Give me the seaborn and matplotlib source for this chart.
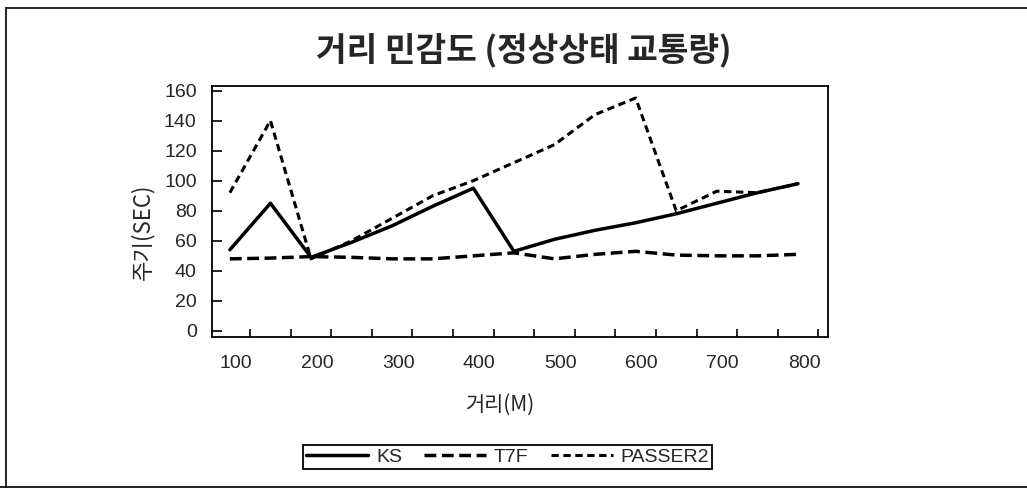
import pandas as pd
import numpy as np
import matplotlib
matplotlib.use("Agg")
import matplotlib.pyplot as plt
import matplotlib.font_manager as fm
from matplotlib.lines import Line2D
from matplotlib.transforms import ScaledTranslation
import seaborn as sns

# Datos (ciclo en segundos segun distancia)
distancia = [100, 150, 200, 250, 300, 350, 400, 450, 500, 550, 600, 650, 700, 750, 800]
ks = [54, 85, 49, 59, 70, 83, 95, 53, 61, 67, 72, 78, 85, 92, 98]
t7f = [48, 48.5, 49.5, 49, 48, 48, 50, 52, 48, 51, 53, 50.5, 50, 50, 51]
passer2 = [92, 140, 48, 60, 75, 90, 100, 112, 124, 144, 155, 80, 93, 92, 98]

series = ["KS", "T7F", "PASSER2"]
x_ticks = [100, 200, 300, 400, 500, 600, 700, 800]
y_ticks = [0, 20, 40, 60, 80, 100, 120, 140, 160]

titulo = "거리 민감도 (정상상태 교통량)"
xlabel = "거리(M)"
ylabel = "주기(SEC)"

# Estilo general
sns.set_theme(style="white")
nombres = {f.name for f in fm.fontManager.ttflist}
narrow = "Liberation Sans Narrow" if "Liberation Sans Narrow" in nombres else "Liberation Sans"
plt.rcParams["font.family"] = [narrow, "Noto Sans CJK KR", "DejaVu Sans"]
korean = ["Noto Sans CJK KR", "DejaVu Sans"]

df = pd.DataFrame({
    "거리": distancia * 3,
    "주기": ks + t7f + passer2,
    "구분": [s for s in series for _ in distancia],
})

fig = plt.figure(figsize=(10.27, 4.91), dpi=100)
ax = fig.add_axes([212 / 1027, 1 - 337 / 491, 616 / 1027, 251 / 491])

estilos = {
    "KS": dict(linewidth=2.5, linestyle="-"),
    "T7F": dict(linewidth=2.5, linestyle=(0, (3.4, 1.6))),
    "PASSER2": dict(linewidth=2.2, linestyle=(0, (2.4, 1.5))),
}
for s in series:
    sns.lineplot(data=df[df["구분"] == s], x="거리", y="주기", color="black",
                 label=s, ax=ax, **estilos[s])

# Ejes
ax.set_xlim(78, 837)
ax.set_ylim(-4, 163)
ax.set_xticks(x_ticks)
ax.set_xticks(np.arange(125, 826, 50), minor=True)
ax.set_yticks(y_ticks)
ax.tick_params(axis="x", which="major", length=0, pad=13, labelsize=14)
ax.tick_params(axis="x", which="minor", direction="in", length=6, width=1.2, color="black",
               bottom=True)
ax.tick_params(axis="y", which="major", direction="in", length=7, width=1.2, color="black",
               left=True, pad=11, labelsize=14)
for lab in ax.get_xticklabels():
    lab.set_transform(lab.get_transform() + ScaledTranslation(6 / 100, 0, fig.dpi_scale_trans))

for sp in ax.spines.values():
    sp.set_color("black")
    sp.set_linewidth(1.3)

ax.set_xlabel(xlabel, fontsize=15, family=korean)
ax.xaxis.set_label_coords(0.469, -0.225)
ax.set_ylabel(ylabel, fontsize=16, family=korean)
ax.yaxis.set_label_coords(-0.093, 0.42)

fig.text(524 / 1027, 1 - 50 / 491, titulo, ha="center", va="center",
         fontsize=24, weight="bold", family=korean)

# Leyenda
leg = ax.legend(loc="center", bbox_to_anchor=(303 / 1027, 1 - 470 / 491, 409 / 1027, 26 / 491),
                bbox_transform=fig.transFigure, ncol=3, mode="expand", borderaxespad=0,
                frameon=True, fancybox=False, edgecolor="black", framealpha=1,
                borderpad=0.15, handlelength=3.2, handletextpad=0.4, columnspacing=1.0,
                prop={"family": narrow, "size": 14})
leg.get_frame().set_linewidth(1.3)

# Marco de la figura
for xs, ys in [([6, 6], [8, 487]), ([6, 1027], [8, 8]), ([0, 1027], [487, 487])]:
    fig.add_artist(Line2D([v / 1027 for v in xs], [1 - v / 491 for v in ys],
                          transform=fig.transFigure, color="black", linewidth=1.2))

fig.savefig("out.png", dpi=100)
